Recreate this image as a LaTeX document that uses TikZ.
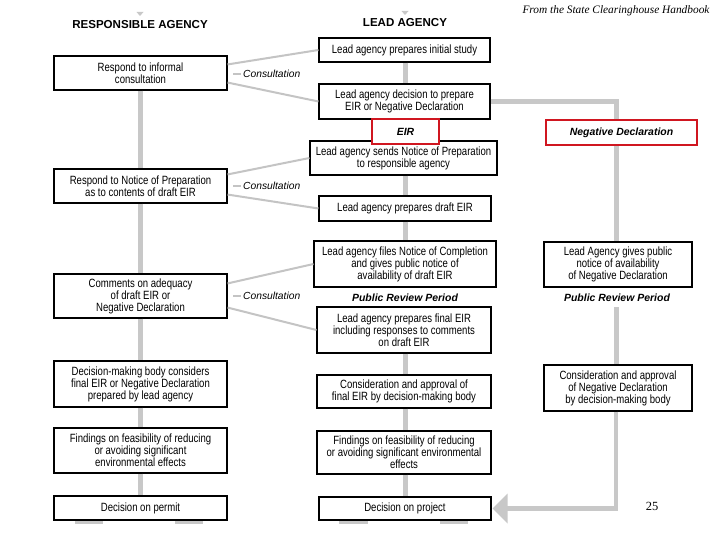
\documentclass[tikz,border=0pt]{standalone}
\usepackage{fontspec}
\usetikzlibrary{calc}
\newfontfamily\boxfont{Liberation Sans}[FakeStretch=0.8]
\newfontfamily\hdrfont{Liberation Sans}
\newfontfamily\ttlfont{Liberation Serif}
\definecolor{linegray}{RGB}{200,200,200}
\definecolor{thingray}{RGB}{196,196,196}
\definecolor{redbox}{RGB}{208,22,32}
\begin{document}
\begin{tikzpicture}[x=1bp,y=-1bp,
  box/.style={draw=black, line width=1.1bp, fill=white, inner sep=0pt, align=center,
    font=\boxfont\fontsize{12}{12}\selectfont},
  redlbl/.style={draw=redbox, line width=2.6bp, fill=white, inner sep=0pt, align=center,
    font=\hdrfont\bfseries\itshape\fontsize{10.5}{12}\selectfont},
  hdr/.style={inner sep=0pt, font=\hdrfont\bfseries\fontsize{11.6}{13}\selectfont},
  cons/.style={inner sep=0pt, anchor=west, font=\hdrfont\itshape\fontsize{10.3}{12}\selectfont},
  prp/.style={inner sep=0pt, font=\hdrfont\bfseries\itshape\fontsize{10.5}{12}\selectfont},
  flow/.style={draw=linegray, line width=5bp},
  conline/.style={draw=thingray, line width=2bp},
  legbar/.style={draw=linegray, line width=3bp},
  marker/.style={fill=linegray, draw=none}]
\useasboundingbox[fill=white] (0,0) rectangle (720,540);

% headers and captions
\node[hdr] (RA) at (140,25) {RESPONSIBLE AGENCY};
\node[hdr] (LA) at (405,23) {LEAD AGENCY};
\node[inner sep=0pt, font=\ttlfont\itshape\fontsize{11.4}{13}\selectfont] (ttl) at (616,11) {From the State Clearinghouse Handbook};
\node[inner sep=0pt, font=\ttlfont\fontsize{12.5}{14}\selectfont] (pg) at (652,506) {25};
\coordinate (mkL) at (140,14);
\coordinate (mkM) at (405,13);

% left column
\node[box, minimum width=173bp, minimum height=34bp] (L1) at (140.5,73) {Respond to informal\\consultation};
\node[box, minimum width=173bp, minimum height=34bp] (L2) at (140.5,186) {Respond to Notice of Preparation\\as to contents of draft EIR};
\node[box, minimum width=173bp, minimum height=44bp] (L3) at (140.5,296) {Comments on adequacy\\of draft EIR or\\Negative Declaration};
\node[box, minimum width=173bp, minimum height=46bp] (L4) at (140.5,384) {Decision-making body considers\\final EIR or Negative Declaration\\prepared by lead agency};
\node[box, minimum width=173bp, minimum height=45bp] (L5) at (140.5,450.5) {Findings on feasibility of reducing\\or avoiding significant\\environmental effects};
\node[box, minimum width=173bp, minimum height=24bp] (L6) at (140.5,508) {Decision on permit};

% middle column
\node[box, minimum width=171bp, minimum height=24bp] (Ma) at (404.5,50) {Lead agency prepares initial study};
\node[box, minimum width=171bp, minimum height=35bp] (Mb) at (404.5,101.5) {Lead agency decision to prepare\\EIR or Negative Declaration};
\node[box, minimum width=187bp, minimum height=34bp] (Mc) at (403.5,158) {Lead agency sends Notice of Preparation\\to responsible agency};
\node[redlbl, minimum width=67bp, minimum height=25bp] (EIR) at (405.5,131.5) {EIR};
\node[box, minimum width=172bp, minimum height=25bp] (Md) at (405,208.5) {Lead agency prepares draft EIR};
\node[box, minimum width=182bp, minimum height=46bp] (Me) at (405,264) {Lead agency files Notice of Completion\\and gives public notice of\\availability of draft EIR};
\node[prp] (PRP1) at (405,298) {Public Review Period};
\node[box, minimum width=174bp, minimum height=46bp] (Mf) at (404,330) {Lead agency prepares final EIR\\including responses to comments\\on draft EIR};
\node[box, minimum width=174bp, minimum height=33bp] (Mg) at (404,391.5) {Consideration and approval of\\final EIR by decision-making body};
\node[box, minimum width=174bp, minimum height=43bp] (Mh) at (404,452.5) {Findings on feasibility of reducing\\or avoiding significant environmental\\effects};
\node[box, minimum width=172bp, minimum height=23bp] (Mi) at (405,508.5) {Decision on project};

% right column
\node[redlbl, minimum width=151bp, minimum height=25bp] (ND) at (621.5,132.5) {Negative Declaration};
\node[box, minimum width=148bp, minimum height=45bp] (Ra) at (618,264.5) {Lead Agency gives public\\notice of availability\\of Negative Declaration};
\node[prp] (PRP2) at (617,298) {Public Review Period};
\node[box, minimum width=148bp, minimum height=46bp] (Rb) at (618,388) {Consideration and approval\\of Negative Declaration\\by decision-making body};

% consultation labels
\node[cons] (C1) at (243,74) {Consultation};
\node[cons] (C2) at (243,186) {Consultation};
\node[cons] (C3) at (243,296) {Consultation};

\coordinate (lx) at (140.5,0);
\coordinate (mx) at (405,0);
\coordinate (rx) at (616,0);

% top markers
\fill[marker] ($(mkL)+(-3.5,-2)$) -- ($(mkL)+(3.5,-2)$) -- ($(mkL)+(0,2)$) -- cycle;
\fill[marker] ($(mkM)+(-3.5,-2)$) -- ($(mkM)+(3.5,-2)$) -- ($(mkM)+(0,2)$) -- cycle;

% left flow
\draw[flow] (lx |- L1.south) -- (lx |- L2.north);
\draw[flow] (lx |- L2.south) -- (lx |- L3.north);
\draw[flow] (lx |- L3.south) -- (lx |- L4.north);
\draw[flow] (lx |- L4.south) -- (lx |- L5.north);
\draw[flow] (lx |- L5.south) -- (lx |- L6.north);

% middle flow
\draw[flow] (mx |- Ma.south) -- (mx |- Mb.north);
\draw[flow] (mx |- Mc.south) -- (mx |- Md.north);
\draw[flow] (mx |- Md.south) -- (mx |- Me.north);
\draw[flow] (mx |- Mf.south) -- (mx |- Mg.north);
\draw[flow] (mx |- Mg.south) -- (mx |- Mh.north);
\draw[flow] (mx |- Mh.south) -- (mx |- Mi.north);

% right flow
\draw[flow] (Mb.east) -| (rx |- ND.north);
\draw[flow] (rx |- ND.south) -- (rx |- Ra.north);
\draw[flow] ($(rx |- PRP2.south)+(0,5)$) -- (rx |- Rb.north);
\draw[flow, line width=4.5bp] (rx |- Rb.south) -- (rx |- Mi.east) -- ($(Mi.east)+(15,0)$);
\fill[linegray] ($(Mi.east)+(1,0)$) -- ($(Mi.east)+(16,-15)$) -- ($(Mi.east)+(16,15)$) -- cycle;

% consultation lines
\draw[conline] ($(L1.north east)+(0,9)$) -- (Ma.west);
\draw[conline] ($(L1.south east)+(0,-8)$) -- (Mb.west);
\draw[conline] ($(L2.north east)+(0,6)$) -- (Mc.west);
\draw[conline] ($(L2.south east)+(0,-9)$) -- (Md.west);
\draw[conline] ($(L3.north east)+(0,10)$) -- (Me.west);
\draw[conline] ($(L3.south east)+(0,-11)$) -- (Mf.west);
\draw[conline] ($(C1.west)+(-10,0)$) -- ($(C1.west)+(-2,0)$);
\draw[conline] ($(C2.west)+(-10,0)$) -- ($(C2.west)+(-2,0)$);
\draw[conline] ($(C3.west)+(-10,0)$) -- ($(C3.west)+(-2,0)$);

% small bars under bottom boxes
\draw[legbar] ($(L6.south)+(-65.5,2)$) -- ($(L6.south)+(-37.5,2)$);
\draw[legbar] ($(L6.south)+(34.5,2)$) -- ($(L6.south)+(62.5,2)$);
\draw[legbar] ($(Mi.south)+(-66,2)$) -- ($(Mi.south)+(-37,2)$);
\draw[legbar] ($(Mi.south)+(35,2)$) -- ($(Mi.south)+(63,2)$);
\end{tikzpicture}
\end{document}
